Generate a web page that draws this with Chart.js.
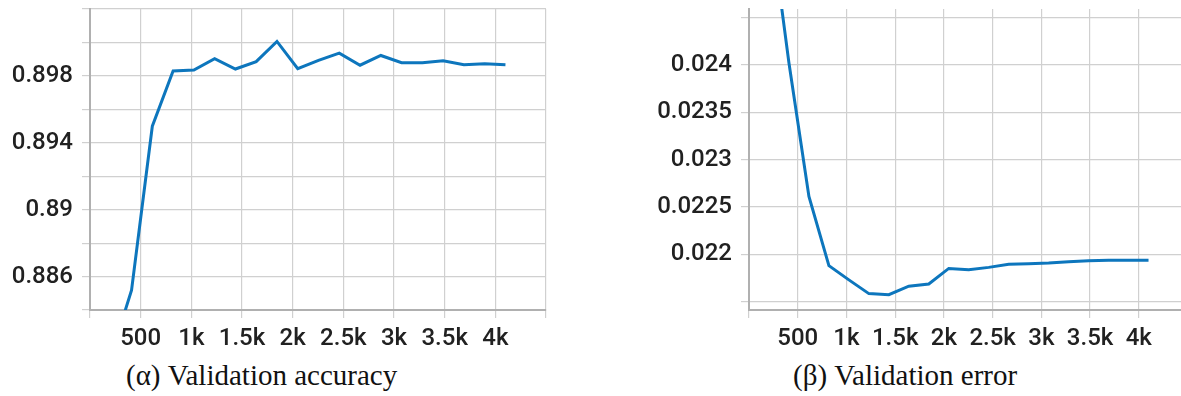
<!DOCTYPE html>
<html>
<head>
<meta charset="utf-8">
<script src="https://cdn.jsdelivr.net/npm/chart.js@4.4.1/dist/chart.umd.min.js"></script>
<style>
  html, body { margin: 0; padding: 0; background: #fff; width: 1181px; height: 396px; overflow: hidden; }
  .panel { position: absolute; top: 0; height: 352px; }
  .caption {
    position: absolute;
    font-family: "Liberation Serif", "Times New Roman", serif;
    font-size: 29px;
    line-height: 29px;
    color: #111;
    white-space: nowrap;
  }
</style>
</head>
<body>
<div class="panel" style="left:0;width:560px"><canvas id="accChart"></canvas></div>
<div class="panel" style="left:600px;width:600px"><canvas id="errChart"></canvas></div>
<div class="caption" style="left:126px;top:361px">(α) Validation accuracy</div>
<div class="caption" style="left:793px;top:361px">(β) Validation error</div>

<script>
// training steps at which validation was run
const steps = [205, 410, 615, 820, 1025, 1230, 1435, 1640, 1845, 2050,
               2255, 2460, 2665, 2870, 3075, 3280, 3485, 3690, 3895, 4100];

const accuracy = [0.8812, 0.88519, 0.89499, 0.89829, 0.89835, 0.89903, 0.89841, 0.89885, 0.90006, 0.89843,
                  0.89893, 0.89936, 0.89864, 0.89922, 0.89879, 0.89879, 0.89891, 0.89867, 0.89873, 0.89867];

const errorRate = [0.02562, 0.02402, 0.02261, 0.02188, 0.02173, 0.021585, 0.021574, 0.021663, 0.021687, 0.021851,
                   0.021836, 0.021862, 0.021894, 0.0219, 0.021907, 0.021921, 0.021932, 0.021936, 0.021936, 0.021936];

// tick values that get a printed label
const stepLabels = [500, 1000, 1500, 2000, 2500, 3000, 3500, 4000];
const accLabels = [0.886, 0.89, 0.894, 0.898];
const errLabels = [0.022, 0.0225, 0.023, 0.0235, 0.024];

Chart.defaults.font.family = 'Roboto, "Noto Sans", sans-serif';
Chart.defaults.font.size = 24;
Chart.defaults.font.weight = '500';
Chart.defaults.color = '#212121';

const GRID = '#d0d0d0';
const BORDER = '#b0b0b0';

const hasLabel = (list, v) => list.some(l => Math.abs(l - v) < 1e-9);

function buildChart(id, values, yRange, yLabels, axisWidth, padRight) {
  const ctx = document.getElementById(id).getContext('2d');
  return new Chart(ctx, {
    type: 'line',
    data: {
      datasets: [{
        data: steps.map((s, i) => ({ x: s, y: values[i] })),
        borderColor: '#0d76bd',
        borderWidth: 3,
        pointRadius: 0,
        tension: 0,
        fill: false,
        clip: 0,
      }],
    },
    options: {
      responsive: true,
      maintainAspectRatio: false,
      animation: false,
      layout: { padding: { top: 9, right: padRight, left: 0, bottom: 0 } },
      plugins: { legend: { display: false }, tooltip: { enabled: false } },
      scales: {
        x: {
          type: 'linear',
          min: 0,
          max: 4500,
          grid: { color: GRID, lineWidth: 1.2, tickLength: 8 },
          border: { color: BORDER, width: 2 },
          ticks: {
            stepSize: 500,
            autoSkip: false,
            maxRotation: 0,
            padding: 7,
            callback: v => hasLabel(stepLabels, v) ? (v >= 1000 ? (v / 1000) + 'k' : String(v)) : '',
          },
          afterFit: s => { s.height = 42; s.paddingLeft = 0; s.paddingRight = 0; },
        },
        y: {
          type: 'linear',
          min: yRange[0],
          max: yRange[1],
          grid: { color: GRID, lineWidth: 1.2, tickLength: 8 },
          border: { color: BORDER, width: 2 },
          ticks: {
            stepSize: yRange[2],
            includeBounds: false,
            autoSkip: false,
            padding: 9,
            callback: v => hasLabel(yLabels, v) ? String(Number(v.toFixed(5))) : '',
          },
          afterFit: s => { s.width = axisWidth; s.paddingTop = 0; s.paddingBottom = 0; },
        },
      },
    },
  });
}

buildChart('accChart', accuracy, [0.884, 0.902, 0.002], accLabels, 90, 14);
buildChart('errChart', errorRate, [0.021412, 0.02459, 0.0005], errLabels, 149, 12.5);
</script>
</body>
</html>
